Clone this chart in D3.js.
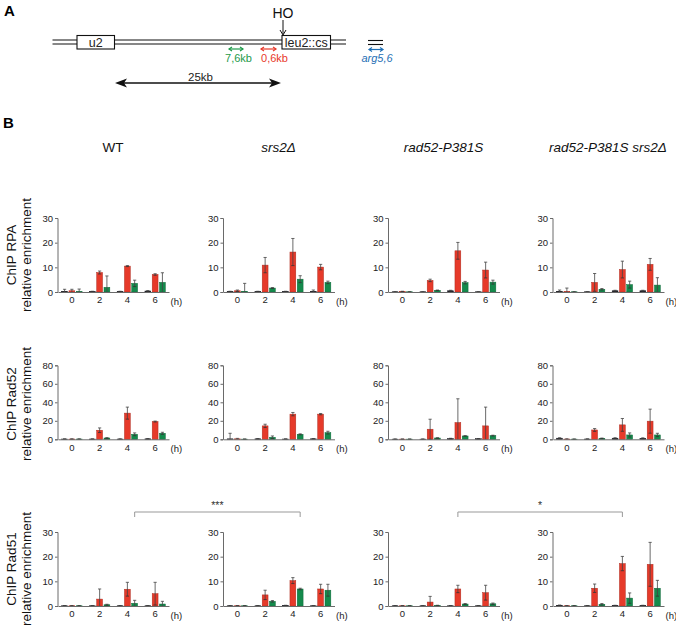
<!DOCTYPE html>
<html><head><meta charset="utf-8">
<script src="https://cdn.jsdelivr.net/npm/d3@7"></script>
<style>body{margin:0;background:#fff}svg{display:block;font-family:"Liberation Sans",Arial,sans-serif}</style>
</head><body><svg id="c" width="676" height="629"></svg>
<script>
// ---------- data ----------
const times = ["0","2","4","6"];
const series = ["arg5,6","0,6kb","7,6kb"];
const seriesColors = ["#22222c","#e63a2a","#148a4c"];
const genotypes = ["WT","srs2Δ","rad52-P381S","rad52-P381S srs2Δ"];
const rowTitles = ["ChIP RPA","ChIP Rad52","ChIP Rad51"];
const yMax = [30,80,30];
const yTicks = [[0,10,20,30],[0,20,40,60,80],[0,10,20,30]];

// ChIP RPA: [genotype][time]
const rpaArg   = [[0.3,0.2,0.2,0.4],[0.2,0.2,0.2,0.3],[0.1,0.1,0.5,0.1],[0.3,0.1,0.5,0.5]];
const rpaArgE  = [[0.8,0.1,0.1,0.2],[0.1,0.1,0.1,0.5],[0.1,0.1,0.2,0.1],[0.5,0.1,0.2,0.2]];
const rpa06    = [[0.5,7.9,10.5,7.1],[0.5,10.9,16.2,10.1],[0.2,4.7,16.7,8.9],[0.2,3.9,9.1,11.2]];
const rpa06E   = [[0.6,0.6,0.2,0.3],[0.3,3.1,5.5,1.1],[0.1,0.5,3.4,3.2],[1.4,3.6,3.4,2.4]];
const rpa76    = [[0.2,1.9,3.5,3.9],[0.3,1.6,5.2,3.9],[0.1,0.7,3.8,4.0],[0.1,1.1,3.0,2.8]];
const rpa76E   = [[1.0,4.6,1.3,3.9],[3.2,0.2,1.4,0.5],[0.1,0.1,0.5,0.8],[0.1,0.3,1.4,3.0]];

// ChIP Rad52
const r52Arg   = [[0.3,0.3,0.3,0.5],[0.5,0.5,0.3,0.5],[0.2,0.2,0.8,0.6],[1.2,0.3,1.2,1.1]];
const r52ArgE  = [[0.1,0.1,0.1,0.2],[6.0,0.2,0.1,0.2],[0.1,0.1,0.3,0.2],[0.5,0.1,0.5,0.5]];
const r5206    = [[0.3,9.8,28.3,19.2],[0.5,14.5,27.2,27.2],[0.2,10.9,18.1,14.5],[0.3,10.1,15.6,19.6]];
const r5206E   = [[0.1,2.5,6.5,0.5],[0.5,1.8,1.8,0.7],[0.1,10.8,25.7,20.3],[0.3,1.5,6.9,13.0]];
const r5276    = [[0.3,1.4,5.4,6.5],[0.2,2.2,5.4,7.2],[0.2,1.4,3.6,4.0],[0.2,1.1,4.7,4.7]];
const r5276E   = [[0.1,0.3,1.5,1.1],[0.1,1.4,0.5,1.5],[0.1,0.2,0.3,0.4],[0.1,0.2,2.2,1.8]];

// ChIP Rad51
const r51Arg   = [[0.1,0.1,0.1,0.1],[0.1,0.1,0.2,0.1],[0.1,0.1,0.1,0.1],[0.3,0.1,0.2,0.2]];
const r51ArgE  = [[0.05,0.05,0.05,0.05],[0.05,0.05,0.1,0.05],[0.05,0.05,0.05,0.05],[0.1,0.05,0.1,0.1]];
const r5106    = [[0.1,2.8,6.8,5.0],[0.1,4.5,10.3,6.9],[0.1,1.6,6.9,5.4],[0.1,7.2,17.2,16.9]];
const r5106E   = [[0.05,4.1,2.8,4.6],[0.05,1.9,1.2,1.9],[0.05,2.3,1.5,3.0],[0.05,1.7,2.9,8.9]];
const r5176    = [[0.1,0.5,1.1,0.8],[0.1,1.9,6.9,6.4],[0.1,0.2,0.8,0.9],[0.1,0.7,3.2,7.2]];
const r5176E   = [[0.05,0.2,1.2,1.1],[0.05,0.3,0.3,2.4],[0.05,0.1,0.2,0.3],[0.05,0.3,2.1,3.2]];

const rowData = [
  {vals:[rpaArg,rpa06,rpa76], errs:[rpaArgE,rpa06E,rpa76E]},
  {vals:[r52Arg,r5206,r5276], errs:[r52ArgE,r5206E,r5276E]},
  {vals:[r51Arg,r5106,r5176], errs:[r51ArgE,r5106E,r5176E]}
];
// significance brackets (row 3)
const bracketPairs = [[0,1],[2,3]];
const bracketTime = ["4","4"];
const bracketSeries = ["7,6kb","0,6kb"];
const bracketLabels = ["***","*"];

// ---------- layout ----------
const svg = d3.select("#c");
const colX = [57.5,223,388,552.5];
const rowY0 = [292,439.3,606];
const plotH = 74, plotW = 111;
const axisColor = "#6a6a6a";

const x = d3.scaleBand().domain(times).range([0.5, plotW+0.5]).padding(0);
const sub = d3.scaleBand().domain(series).range([-10.2,10.2]).paddingInner(0.2);

// ---------- panel A schematic ----------
const A = svg.append("g");
A.append("text").attr("x",4).attr("y",16).attr("font-size",15).attr("font-weight","bold").text("A");
[40,44].forEach(yy=>{
  A.append("line").attr("x1",52.5).attr("x2",346).attr("y1",yy).attr("y2",yy).attr("stroke","#111").attr("stroke-width",1.1);
  A.append("line").attr("x1",368).attr("x2",383).attr("y1",yy+0.5).attr("y2",yy+0.5).attr("stroke","#111").attr("stroke-width",1.1);
});
[[77,114.5,"u2"],[282,330.5,"leu2::cs"]].forEach(([a,b,t])=>{
  A.append("rect").attr("x",a).attr("y",35.5).attr("width",b-a).attr("height",13.5).attr("fill","#fff").attr("stroke","#111").attr("stroke-width",1.1);
  A.append("text").attr("x",(a+b)/2).attr("y",46.5).attr("text-anchor","middle").attr("font-size",12.5).attr("fill","#222").text(t);
});
A.append("text").attr("x",283).attr("y",17.5).attr("text-anchor","middle").attr("font-size",14).attr("fill","#111").text("HO");
A.append("line").attr("x1",283).attr("x2",283).attr("y1",20).attr("y2",34).attr("stroke","#111").attr("stroke-width",1);
A.append("path").attr("d","M280,30 L283,35 L286,30").attr("fill","none").attr("stroke","#111").attr("stroke-width",1);

function dblArrow(g,x1,x2,y,col,hw,hl,filled,sw){
  g.append("line").attr("x1",x1+(filled?hl*0.6:0)).attr("x2",x2-(filled?hl*0.6:0)).attr("y1",y).attr("y2",y).attr("stroke",col).attr("stroke-width",sw);
  if(filled){
    g.append("path").attr("d",`M${x1},${y} L${x1+hl},${y-hw} L${x1+hl*0.75},${y} L${x1+hl},${y+hw} Z`).attr("fill",col);
    g.append("path").attr("d",`M${x2},${y} L${x2-hl},${y-hw} L${x2-hl*0.75},${y} L${x2-hl},${y+hw} Z`).attr("fill",col);
  } else {
    g.append("path").attr("d",`M${x1+hl},${y-hw} L${x1},${y} L${x1+hl},${y+hw} M${x2-hl},${y-hw} L${x2},${y} L${x2-hl},${y+hw}`).attr("fill","none").attr("stroke",col).attr("stroke-width",sw);
  }
}
dblArrow(A,229,243,49,"#1e9a4a",2,3,false,1.2);
dblArrow(A,261,276,49,"#e8392b",2,3,false,1.2);
dblArrow(A,369,383,49.5,"#1f6fb5",2,3,false,1.2);
A.append("text").attr("x",238.5).attr("y",62).attr("text-anchor","middle").attr("font-size",11).attr("fill","#1e9a4a").text("7,6kb");
A.append("text").attr("x",274.5).attr("y",62).attr("text-anchor","middle").attr("font-size",11).attr("fill","#e8392b").text("0,6kb");
A.append("text").attr("x",377).attr("y",62).attr("text-anchor","middle").attr("font-size",11).attr("font-style","italic").attr("fill","#1f6fb5").text("arg5,6");
dblArrow(A,115,281,83,"#111",4.5,12,true,1.4);
A.append("text").attr("x",200.5).attr("y",80.5).attr("text-anchor","middle").attr("font-size",11.5).attr("fill","#222").text("25kb");

// ---------- panel B ----------
svg.append("text").attr("x",3).attr("y",127.5).attr("font-size",15).attr("font-weight","bold").text("B");
genotypes.forEach((gname,i)=>{
  svg.append("text").attr("x",colX[i]+plotW/2).attr("y",152).attr("text-anchor","middle")
    .attr("font-size",13.5).attr("fill","#111").attr("font-style",i===0?"normal":"italic").text(gname);
});
const rowLabelCY = [255,404,569];
rowTitles.forEach((t,r)=>{
  const g = svg.append("g").attr("transform",`translate(15.5,${rowLabelCY[r]}) rotate(-90)`);
  g.append("text").attr("x",0).attr("y",0).attr("text-anchor","middle").attr("font-size",13.5).attr("fill","#111").text(t);
  g.append("text").attr("x",0).attr("y",15.5).attr("text-anchor","middle").attr("font-size",13.5).attr("fill","#111").text("relative enrichment");
});

rowData.forEach((rd,r)=>{
  const y = d3.scaleLinear().domain([0,yMax[r]]).range([plotH,0]);
  genotypes.forEach((gname,c)=>{
    const g = svg.append("g").attr("transform",`translate(${colX[c]},${rowY0[r]-plotH})`);
    series.forEach((s,si)=>{
      const vals = rd.vals[si][c], errs = rd.errs[si][c];
      const bw = sub.bandwidth();
      times.forEach((t,ti)=>{
        const cx = x(t)+x.bandwidth()/2 + sub(s) + bw/2;
        const v = vals[ti], e = errs[ti];
        g.append("rect").attr("x",cx-bw/2).attr("y",y(v)).attr("width",bw).attr("height",plotH-y(v))
          .attr("fill",seriesColors[si]).attr("stroke",d3.color(seriesColors[si]).darker(0.8)).attr("stroke-width",0.5);
        const lo = Math.max(0,v-e), hi = v+e;
        g.append("line").attr("x1",cx).attr("x2",cx).attr("y1",y(lo)).attr("y2",y(hi)).attr("stroke","#444").attr("stroke-width",0.8);
        g.append("line").attr("x1",cx-1.6).attr("x2",cx+1.6).attr("y1",y(hi)).attr("y2",y(hi)).attr("stroke","#444").attr("stroke-width",0.8);
        if(v-e>0) g.append("line").attr("x1",cx-1.6).attr("x2",cx+1.6).attr("y1",y(lo)).attr("y2",y(lo)).attr("stroke","#333").attr("stroke-width",0.8);
      });
    });
    const ya = g.append("g").call(d3.axisLeft(y).tickValues(yTicks[r]).tickSize(2.5).tickPadding(2));
    ya.select(".domain").attr("stroke",axisColor).attr("stroke-width",1);
    ya.selectAll(".tick line").attr("stroke",axisColor);
    ya.selectAll("text").attr("font-size",9.5).attr("fill","#222").attr("font-family","Liberation Sans, Arial, sans-serif");
    const xa = g.append("g").attr("transform",`translate(0,${plotH})`).call(d3.axisBottom(x).tickSize(0).tickPadding(4.5));
    xa.select(".domain").attr("stroke",axisColor).attr("stroke-width",1);
    xa.selectAll("text").attr("font-size",9.5).attr("fill","#222").attr("font-family","Liberation Sans, Arial, sans-serif");
    g.append("text").attr("x",plotW+2).attr("y",plotH+13).attr("font-size",9.5).attr("fill","#222").text("(h)");
  });
});

bracketPairs.forEach(([a,b],k)=>{
  const off = x(bracketTime[k])+x.bandwidth()/2 + sub(bracketSeries[k]) + sub.bandwidth()/2;
  const xa = colX[a]+off, xb = colX[b]+off;
  const yb = rowY0[2]-plotH-20;
  svg.append("path").attr("d",`M${xa},${yb+5} L${xa},${yb} L${xb},${yb} L${xb},${yb+5}`).attr("fill","none").attr("stroke","#999").attr("stroke-width",1);
  svg.append("text").attr("x",(xa+xb)/2).attr("y",yb-3).attr("text-anchor","middle").attr("font-size",10.5).attr("fill","#333").text(bracketLabels[k]);
});
</script></body></html>
